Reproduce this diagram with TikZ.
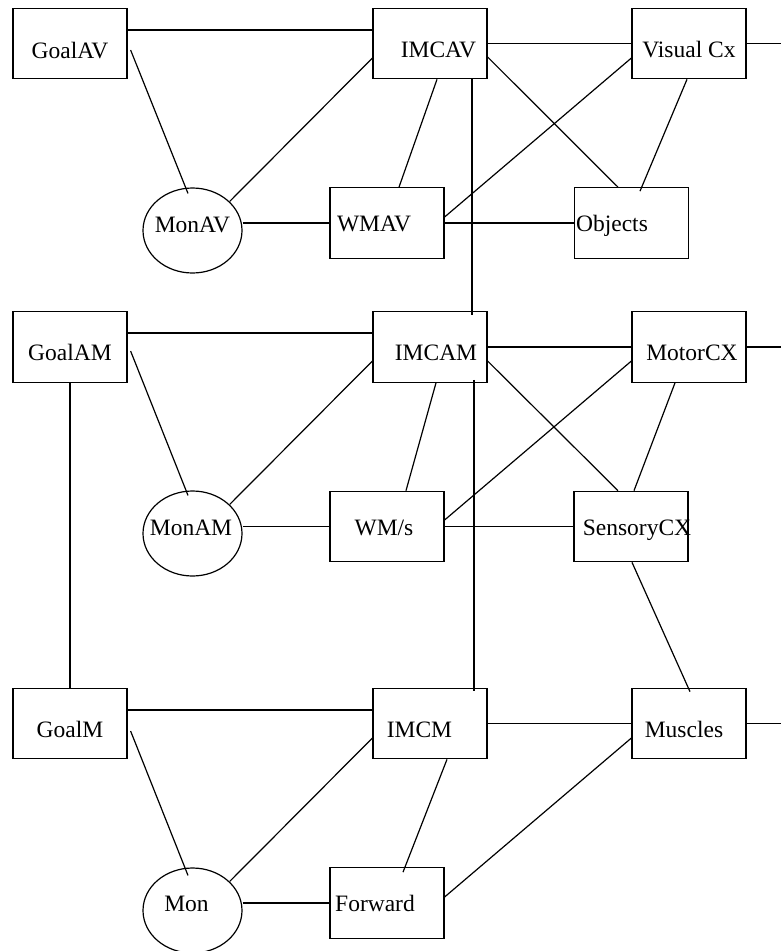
\documentclass[tikz,border=0pt]{standalone}
\usepackage{fontspec}
\setmainfont{Liberation Serif}
\usetikzlibrary{shapes,calc,positioning}

\begin{document}
\begin{tikzpicture}[x=1pt, y=-1pt, line width=1.2pt, font=\fontsize{23.5}{28}\selectfont,
		box_node/.style={rectangle,draw,minimum width=114pt,minimum height=70.5pt,inner sep=0pt},
		mon_node/.style={ellipse,draw,minimum width=99pt,minimum height=85pt,inner sep=0pt},
		every label/.style={text height=16.5pt,text depth=5.2pt,inner sep=0pt}]
	\useasboundingbox (0,0) rectangle (781,951);
	% visual level
	\node[box_node, label={[yshift=-9pt]center:GoalAV}] (goalav) at (70,43.5) {};
	\node[box_node, label={[xshift=8.5pt,yshift=-8pt]center:IMCAV}] (imcav) at (430,43.5) {};
	\node[box_node, label={[yshift=-8pt]center:Visual Cx}] (visual) at (689,43.5) {};
	\node[mon_node, label={[yshift=4pt]center:MonAV}] (monav) at (192.5,230.5) {};
	\node[box_node, label={[xshift=-13pt,yshift=-3pt]center:WMAV}] (wmav) at (387,223) {};
	\node[box_node, label={[xshift=-19.5pt,yshift=-3pt]center:Objects}] (objects) at (631.5,223) {};
	% motor level
	\node[box_node, label={[yshift=-7.5pt]center:GoalAM}] (goalam) at (70,347) {};
	\node[box_node, label={[xshift=6pt,yshift=-7.5pt]center:IMCAM}] (imcam) at (430,347) {};
	\node[box_node, label={[xshift=3pt,yshift=-7.5pt]center:MotorCX}] (motorcx) at (689,347) {};
	\node[mon_node, label={[xshift=-1.5pt,yshift=4pt]center:MonAM}] (monam) at (192.5,533.5) {};
	\node[box_node, label={[xshift=-3pt,yshift=-3pt]center:WM/s}] (wms) at (387,526.5) {};
	\node[box_node, label={[xshift=6pt,yshift=-3pt]center:SensoryCX}] (sensorycx) at (631,526.5) {};
	% muscle level
	\node[box_node, label={[yshift=-8pt]center:GoalM}] (goalm) at (70,723.5) {};
	\node[box_node, label={[xshift=-10.5pt,yshift=-8pt]center:IMCM}] (imcm) at (430,723.5) {};
	\node[box_node, label={[xshift=-5pt,yshift=-8pt]center:Muscles}] (muscles) at (689,723.5) {};
	\node[mon_node, label={[xshift=-6pt,yshift=4.5pt]center:Mon}] (mon) at (192.5,910.5) {};
	\node[box_node, label={[xshift=-12pt,yshift=-3pt]center:Forward}] (forward) at (387,903) {};
	
	\coordinate (out_v) at (781,43.5);
	\coordinate (out_am) at (781,347);
	\coordinate (out_m) at (781,723.5);
	
	\path
	([yshift=13.5pt]goalav.east) edge ([yshift=13.5pt]imcav.west)
	([shift={(3pt,-6.5pt)}]goalav.east) edge ([shift={(-4.5pt,-6pt)}]monav.north)
	(monav.38) edge ([yshift=-14.5pt]imcav.west)
	(wmav.west -| monav.east) edge (wmav.west)
	([xshift=7pt]imcav.south) edge ([xshift=12pt]wmav.north)
	([xshift=42pt]imcav.south) edge ([shift={(42pt,-4pt)}]imcam.north)
	(imcav.east) edge (visual.west)
	(visual.east) edge (out_v)
	([yshift=-13.5pt]imcav.east) edge ([xshift=-13.5pt]objects.north)
	([yshift=-14.5pt]visual.west) edge ([yshift=6pt]wmav.east)
	([xshift=-2pt]visual.south) edge ([shift={(8.5pt,-4pt)}]objects.north)
	(wmav.east) edge (objects.west);
	
	\path
	([yshift=14pt]goalam.east) edge ([yshift=14pt]imcam.west)
	([shift={(3pt,-4pt)}]goalam.east) edge ([shift={(-4.5pt,-5pt)}]monam.north)
	(monam.38) edge ([yshift=-14pt]imcam.west)
	(wms.west -| monam.east) edge (wms.west)
	([xshift=6pt]imcam.south) edge ([xshift=19pt]wms.north)
	([shift={(44pt,3pt)}]imcam.south) edge ([shift={(44pt,-3pt)}]imcm.north)
	(imcam.east) edge (motorcx.west)
	(motorcx.east) edge (out_am)
	([yshift=-14pt]imcam.east) edge ([xshift=-13pt]sensorycx.north)
	([yshift=-14pt]motorcx.west) edge ([yshift=6.5pt]wms.east)
	([xshift=-14pt]motorcx.south) edge ([xshift=3pt]sensorycx.north)
	(wms.east) edge (sensorycx.west)
	([xshift=1pt]sensorycx.south) edge ([shift={(1pt,-4pt)}]muscles.north)
	(goalam.south) edge (goalm.north);
	
	\path
	([yshift=13.5pt]goalm.east) edge ([yshift=13.5pt]imcm.west)
	([shift={(3pt,-7.5pt)}]goalm.east) edge ([shift={(-4.5pt,-8pt)}]mon.north)
	(mon.38) edge ([yshift=-14.5pt]imcm.west)
	(forward.west -| mon.east) edge (forward.west)
	([xshift=17pt]imcm.south) edge ([shift={(16pt,-5pt)}]forward.north)
	(imcm.east) edge (muscles.west)
	(muscles.east) edge (out_m)
	([yshift=-14.5pt]muscles.west) edge ([yshift=6pt]forward.east);
\end{tikzpicture}
\end{document}
